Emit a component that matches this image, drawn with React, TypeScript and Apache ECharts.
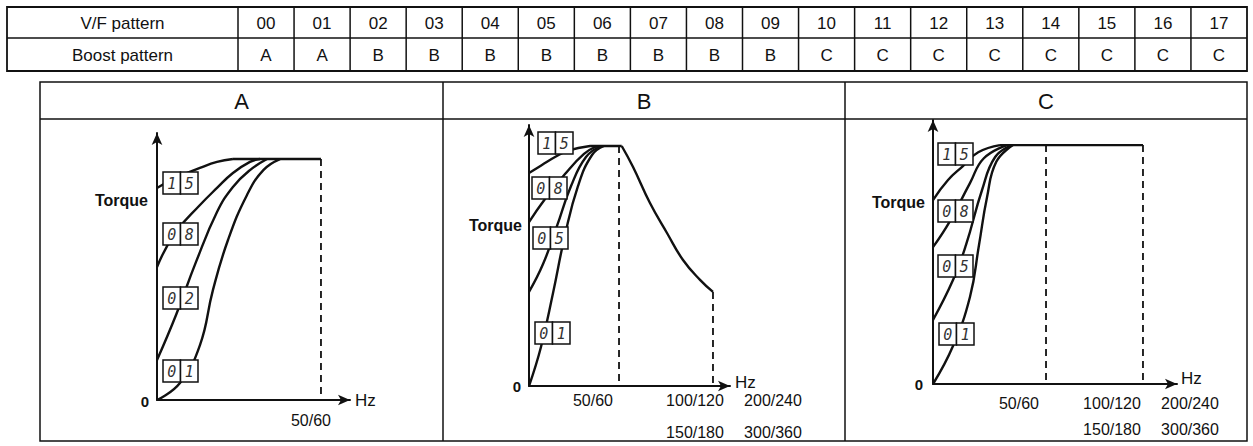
import React, { useEffect, useRef } from 'react';
import * as echarts from 'echarts';

// ---------- table ----------
const tableHeaders = ['V/F pattern', 'Boost pattern'];
const vfPatterns = ['00', '01', '02', '03', '04', '05', '06', '07', '08', '09', '10', '11', '12', '13', '14', '15', '16', '17'];
const boostPatterns = ['A', 'A', 'B', 'B', 'B', 'B', 'B', 'B', 'B', 'B', 'C', 'C', 'C', 'C', 'C', 'C', 'C', 'C'];

// ---------- panels ----------
const panelTitles = ['A', 'B', 'C'];
const boxLabelsA = ['15', '08', '02', '01'];
const boxLabelsBC = ['15', '08', '05', '01'];
const hzLabelsA = ['50/60'];
const hzLabelsRow1 = ['50/60', '100/120', '200/240'];
const hzLabelsRow2 = ['150/180', '300/360'];

// x: frequency / base frequency (50/60 Hz = 1), y: torque in % of rated
const A15 = [[0, 88.0], [0.11, 92.1], [0.262, 96.3], [0.366, 98.8], [0.463, 100]];
const A08 = [[0, 55.2], [0.11, 69.3], [0.262, 80.9], [0.366, 88.0], [0.463, 94.2], [0.567, 98.8], [0.628, 100]];
const A02 = [[0, 16.6], [0.116, 35.3], [0.238, 57.3], [0.366, 78.0], [0.463, 88.4], [0.567, 95.4], [0.671, 100]];
const A01 = [[0, 0], [0.14, 7.1], [0.262, 22.8], [0.341, 45.6], [0.433, 66.4], [0.549, 85.1], [0.65, 95.5], [0.75, 100]];
const ATop = [[0.463, 100], [1, 100]];
const ABase = [[1, 100], [1, 0]];

const B15 = [[0, 88.75], [0.144, 92.1], [0.289, 95.4], [0.433, 98.1], [0.678, 100]];
const B08 = [[0, 68.3], [0.178, 77.9], [0.4, 88.3], [0.611, 96.7], [0.756, 100]];
const B05 = [[0, 39.2], [0.156, 50.8], [0.311, 66.7], [0.467, 83.3], [0.633, 95.4], [0.8, 100]];
const B01 = [[0, 0], [0.133, 16.25], [0.267, 38.75], [0.4, 62.9], [0.544, 83.3], [0.7, 96.25], [0.833, 100]];
const BTop = [[0.678, 100], [1.03, 100]];
const BFall = [[1.03, 100], [1.156, 91.25], [1.344, 76.25], [1.533, 63.75], [1.711, 52.5], [1.9, 44.2], [2.044, 39.2]];
const BBase = [[1, 100], [1, 0]];
const BMax = [[2.044, 39.2], [2.044, 0]];

const C15 = [[0, 77], [0.133, 85.4], [0.265, 91.2], [0.4, 97], [0.593, 100]];
const C08 = [[0, 57.3], [0.15, 68.2], [0.327, 84.1], [0.45, 94.5], [0.655, 100]];
const C05 = [[0, 26.8], [0.177, 43.5], [0.292, 58.2], [0.434, 81.2], [0.55, 95], [0.699, 100]];
const C01 = [[0, 0], [0.177, 15.9], [0.327, 36.4], [0.407, 58.2], [0.478, 78.2], [0.56, 93], [0.708, 100]];
const CTop = [[0.593, 100], [1.858, 100]];
const CBase = [[1, 100], [1, 0]];
const CMax = [[1.858, 100], [1.858, 0]];

const INK = '#111111';
const SANS = '"Liberation Sans", Arial, Helvetica, sans-serif';

function txt(text: string, x: number, y: number, size: number, align = 'center', weight: any = 'normal', extra: any = {}) {
  return {
    type: 'text',
    z: 120,
    silent: true,
    style: {
      text, x, y, fill: INK, fontSize: size, fontFamily: SANS, fontWeight: weight,
      align, verticalAlign: 'middle', textAlign: align, textVerticalAlign: 'middle', ...extra,
    },
  };
}
function line(x1: number, y1: number, x2: number, y2: number, w = 1.5) {
  return { type: 'line', z: 110, silent: true, shape: { x1, y1, x2, y2 }, style: { stroke: INK, lineWidth: w } };
}
function box(x: number, y: number, label: string) {
  const cw = 17.5, h = 22;
  const els: any[] = [];
  for (let i = 0; i < 2; i++) {
    els.push({ type: 'rect', z: 115, silent: true, shape: { x: x + i * cw, y, width: cw, height: h }, style: { fill: '#fff', stroke: INK, lineWidth: 1.5 } });
    els.push({
      type: 'text', z: 120, silent: true,
      style: {
        text: label[i], x: x + i * cw + cw / 2, y: y + h / 2 + 1, fill: '#333', fontSize: 15,
        fontFamily: '"DejaVu Sans Mono", monospace', fontStyle: 'italic', fontWeight: 'lighter',
        align: 'center', verticalAlign: 'middle', textAlign: 'center', textVerticalAlign: 'middle',
      },
    });
  }
  return els;
}

export default function App() {
  const ref = useRef<HTMLDivElement>(null);
  useEffect(() => {
    document.body.style.margin = '0';
    const chart = echarts.init(ref.current!, null, { renderer: 'svg' });

    const panels = [
      { grid: { left: 157, top: 133, width: 193, height: 267 }, xMax: 1.177, yMax: 110.8 },
      { grid: { left: 529, top: 125, width: 201, height: 261 }, xMax: 2.233, yMax: 108.75 },
      { grid: { left: 933, top: 120, width: 244, height: 264 }, xMax: 2.159, yMax: 110.5 },
    ];

    const axisLine = { show: true, onZero: false, symbol: ['none', 'arrow'], symbolSize: [8, 12], lineStyle: { color: INK, width: 2 } };
    const xAxis = panels.map((p, i) => ({
      type: 'value', gridIndex: i, min: 0, max: p.xMax, axisLine, axisTick: { show: false }, axisLabel: { show: false }, splitLine: { show: false },
    }));
    const yAxis = panels.map((p, i) => ({
      type: 'value', gridIndex: i, min: 0, max: p.yMax, axisLine, axisTick: { show: false }, axisLabel: { show: false }, splitLine: { show: false },
    }));

    const curve = (i: number, data: number[][]) => ({
      type: 'line', xAxisIndex: i, yAxisIndex: i, data, showSymbol: false, symbol: 'none', smooth: 0.45,
      lineStyle: { color: INK, width: 2.4 }, silent: true, z: 3,
    });
    const straight = (i: number, data: number[][]) => ({
      type: 'line', xAxisIndex: i, yAxisIndex: i, data, showSymbol: false, symbol: 'none', smooth: false,
      lineStyle: { color: INK, width: 2.4 }, silent: true, z: 3,
    });
    const dashed = (i: number, data: number[][]) => ({
      type: 'line', xAxisIndex: i, yAxisIndex: i, data, showSymbol: false, symbol: 'none', smooth: false,
      lineStyle: { color: INK, width: 1.8, type: [7, 5] }, silent: true, z: 3,
    });

    const series = [
      curve(0, A15), curve(0, A08), curve(0, A02), curve(0, A01), straight(0, ATop), dashed(0, ABase),
      curve(1, B15), curve(1, B08), curve(1, B05), curve(1, B01), straight(1, BTop), curve(1, BFall), dashed(1, BBase), dashed(1, BMax),
      curve(2, C15), curve(2, C08), curve(2, C05), curve(2, C01), straight(2, CTop), dashed(2, CBase), dashed(2, CMax),
    ];

    // ---------- graphic: table ----------
    const g: any[] = [];
    const tL = 7, tR = 1247, tT = 7, tM = 38, tB = 71, hdrR = 238;
    const colW = (tR - hdrR) / vfPatterns.length;
    g.push({ type: 'rect', z: 110, silent: true, shape: { x: tL, y: tT, width: tR - tL, height: tB - tT }, style: { fill: 'none', stroke: INK, lineWidth: 1.8 } });
    g.push(line(tL, tM, tR, tM));
    for (let i = 0; i < vfPatterns.length; i++) {
      const x0 = hdrR + i * colW;
      g.push(line(x0, tT, x0, tB));
      g.push(txt(vfPatterns[i], x0 + colW / 2, (tT + tM) / 2 + 1, 17));
      g.push(txt(boostPatterns[i], x0 + colW / 2, (tM + tB) / 2 + 1, 17));
    }
    g.push(txt(tableHeaders[0], (tL + hdrR) / 2, (tT + tM) / 2 + 1, 17));
    g.push(txt(tableHeaders[1], (tL + hdrR) / 2, (tM + tB) / 2 + 1, 17));

    // ---------- graphic: panel frames ----------
    const pL = 40, pR = 1247, pT = 82, pH = 119, pB = 441;
    const divs = [pL, 443, 845, pR];
    g.push({ type: 'rect', z: 110, silent: true, shape: { x: pL, y: pT, width: pR - pL, height: pB - pT }, style: { fill: 'none', stroke: INK, lineWidth: 1.5 } });
    g.push(line(pL, pH, pR, pH));
    g.push(line(443, pT, 443, pB));
    g.push(line(845, pT, 845, pB));
    panelTitles.forEach((t, i) => g.push(txt(t, (divs[i] + divs[i + 1]) / 2, (pT + pH) / 2 + 1, 22)));

    // Panel A labels
    g.push(txt('Torque', 148, 200, 16, 'right', 'bold'));
    g.push(txt('0', 145, 401, 15, 'center', 'bold'));
    g.push(txt('Hz', 355, 400, 17, 'left'));
    g.push(txt(hzLabelsA[0], 311, 420, 16));
    [[163, 172], [163, 223], [163, 287], [163, 360]].forEach((p, i) => g.push(...box(p[0], p[1], boxLabelsA[i])));

    // Panel B labels
    g.push(txt('Torque', 522, 225, 16, 'right', 'bold'));
    g.push(txt('0', 517, 386, 15, 'center', 'bold'));
    g.push(txt('Hz', 735, 382, 17, 'left'));
    [593, 695, 773].forEach((x, i) => g.push(txt(hzLabelsRow1[i], x, 400, 16)));
    [695, 773].forEach((x, i) => g.push(txt(hzLabelsRow2[i], x, 432, 16)));
    [[538, 132], [532, 177], [533, 227], [535, 322]].forEach((p, i) => g.push(...box(p[0], p[1], boxLabelsBC[i])));

    // Panel C labels
    g.push(txt('Torque', 925, 202, 16, 'right', 'bold'));
    g.push(txt('0', 919, 384, 15, 'center', 'bold'));
    g.push(txt('Hz', 1181, 378, 17, 'left'));
    [1019, 1112, 1190].forEach((x, i) => g.push(txt(hzLabelsRow1[i], x, 403, 16)));
    [1112, 1190].forEach((x, i) => g.push(txt(hzLabelsRow2[i], x, 429, 16)));
    [[938, 143], [938, 200], [938, 255], [939, 323]].forEach((p, i) => g.push(...box(p[0], p[1], boxLabelsBC[i])));

    chart.setOption({
      animation: false,
      backgroundColor: '#ffffff',
      grid: panels.map((p) => ({ ...p.grid, containLabel: false })),
      xAxis,
      yAxis,
      series,
      graphic: { elements: g },
    });
    return () => chart.dispose();
  }, []);
  return <div ref={ref} style={{ position: 'absolute', left: 0, top: 0, width: 1253, height: 446 }} />;
}
